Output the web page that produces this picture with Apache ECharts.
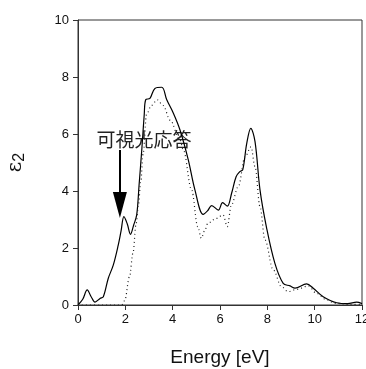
<!DOCTYPE html>
<html>
<head>
<meta charset="utf-8">
<script src="https://cdn.jsdelivr.net/npm/echarts@6/dist/echarts.min.js"></script>
<style>
  html, body { margin: 0; padding: 0; background: #fff; }
  #main { width: 366px; height: 369px; }
</style>
</head>
<body>
<div id="main"></div>
<script>
// 实线 (solid) spectrum
var solidE = [0, 0.2, 0.39, 0.55, 0.72, 0.93, 1.07, 1.28, 1.49, 1.7, 1.82, 1.94, 2.08, 2.22, 2.35, 2.48, 2.58, 2.7, 2.8, 2.86, 3.04, 3.25, 3.54, 3.75, 4.03, 4.31, 4.66, 4.94, 5.29, 5.47, 5.65, 5.93, 6.11, 6.31, 6.49, 6.68, 6.84, 6.96, 7.13, 7.3, 7.48, 7.69, 7.97, 8.32, 8.67, 8.96, 9.17, 9.66, 9.94, 10.36, 10.93, 11.4, 11.77, 12];
var solidEps = [0, 0.2, 0.53, 0.3, 0.1, 0.23, 0.29, 0.94, 1.4, 2.1, 2.6, 3.1, 2.85, 2.48, 2.8, 3.16, 4.2, 5.5, 6.7, 7.2, 7.25, 7.6, 7.64, 7.2, 6.73, 6.14, 5.09, 4.04, 3.18, 3.3, 3.49, 3.33, 3.59, 3.47, 3.92, 4.5, 4.68, 4.74, 5.67, 6.2, 5.73, 4.04, 2.7, 1.46, 0.76, 0.67, 0.59, 0.74, 0.59, 0.29, 0.08, 0.05, 0.1, 0.05];
// 点线 (dotted) spectrum
var dotE = [0, 1.0, 1.85, 1.97, 2.18, 2.32, 2.46, 2.55, 2.65, 2.75, 2.9, 3.1, 3.35, 3.6, 3.89, 4.31, 4.45, 4.8, 5.06, 5.21, 5.35, 5.49, 5.84, 6.13, 6.31, 6.48, 6.77, 7.06, 7.31, 7.48, 7.69, 7.9, 8.25, 8.6, 8.88, 9.24, 9.73, 10.08, 10.5, 10.86, 11.5, 12];
var dotEps = [0, 0, 0, 0.15, 1.0, 1.81, 2.87, 3.5, 4.3, 5.3, 6.7, 7.0, 7.2, 7.0, 6.49, 5.79, 5.44, 4.04, 2.75, 2.34, 2.6, 2.87, 3.04, 3.16, 2.75, 3.51, 4.15, 5.2, 5.55, 4.85, 3.45, 2.28, 1.23, 0.64, 0.47, 0.55, 0.67, 0.41, 0.18, 0.06, 0.02, 0.02];
// 注释
var noteText = '可視光応答';
var notePos = [2.79, 5.8];
var arrowFrom = [1.77, 5.44];
var arrowTo = [1.77, 3.51];

function pairs(xs, ys) {
  var out = [];
  for (var i = 0; i < xs.length; i++) out.push([xs[i], ys[i]]);
  return out;
}

var chart = echarts.init(document.getElementById('main'));
var tickFont = { fontFamily: 'Liberation Sans, Arial, sans-serif', fontSize: 13, color: '#111' };

chart.setOption({
  animation: false,
  grid: {
    left: 78, top: 20, right: 4, bottom: 64,
    outerBoundsMode: 'none', containLabel: false,
    show: true, borderColor: '#333', borderWidth: 1
  },
  xAxis: {
    type: 'value', min: 0, max: 12, interval: 2,
    name: 'Energy [eV]', nameLocation: 'middle', nameGap: 43,
    nameTextStyle: { fontFamily: 'Liberation Sans, Arial, sans-serif', fontSize: 19, color: '#111' },
    axisLine: { lineStyle: { color: '#333' } },
    axisTick: { show: true, inside: false, length: 5, lineStyle: { color: '#333' } },
    axisLabel: Object.assign({ margin: 8, showMaxLabel: true }, tickFont),
    splitLine: { show: false }
  },
  yAxis: {
    type: 'value', min: 0, max: 10, interval: 2,
    name: 'ε{s|2}', nameLocation: 'middle', nameGap: 50, nameRotate: 90,
    nameTextStyle: {
      fontFamily: 'DejaVu Serif, serif', fontSize: 20, color: '#111',
      rich: { s: { fontFamily: 'Liberation Sans, Arial, sans-serif', fontSize: 16, color: '#111', verticalAlign: 'bottom', padding: [8, 0, 0, 0] } }
    },
    axisLine: { show: true, lineStyle: { color: '#333' } },
    axisTick: { show: true, inside: false, length: 5, lineStyle: { color: '#333' } },
    axisLabel: Object.assign({ margin: 9 }, tickFont),
    splitLine: { show: false }
  },
  series: [
    {
      type: 'line', data: pairs(solidE, solidEps), smooth: 0.35, showSymbol: false,
      lineStyle: { color: '#000', width: 1.2 },
      markLine: {
        silent: true, symbol: ['none', 'triangle'], symbolSize: [14, 26],
        lineStyle: { color: '#000', width: 2, type: 'solid' },
        label: { show: false },
        data: [[{ coord: arrowFrom }, { coord: arrowTo }]]
      }
    },
    {
      type: 'line', data: pairs(dotE, dotEps), smooth: 0.35, smoothMonotone: 'x', showSymbol: false,
      lineStyle: { color: '#222', width: 1.2, type: [1, 3] }
    }
  ]
});

var p = chart.convertToPixel({ gridIndex: 0 }, notePos);
chart.setOption({
  graphic: [{
    type: 'text', x: p[0], y: p[1],
    style: {
      text: noteText, align: 'center', verticalAlign: 'middle',
      font: '19px "Noto Sans CJK JP", sans-serif', fill: '#222',
      backgroundColor: 'transparent'
    }
  }]
});
</script>
</body>
</html>
